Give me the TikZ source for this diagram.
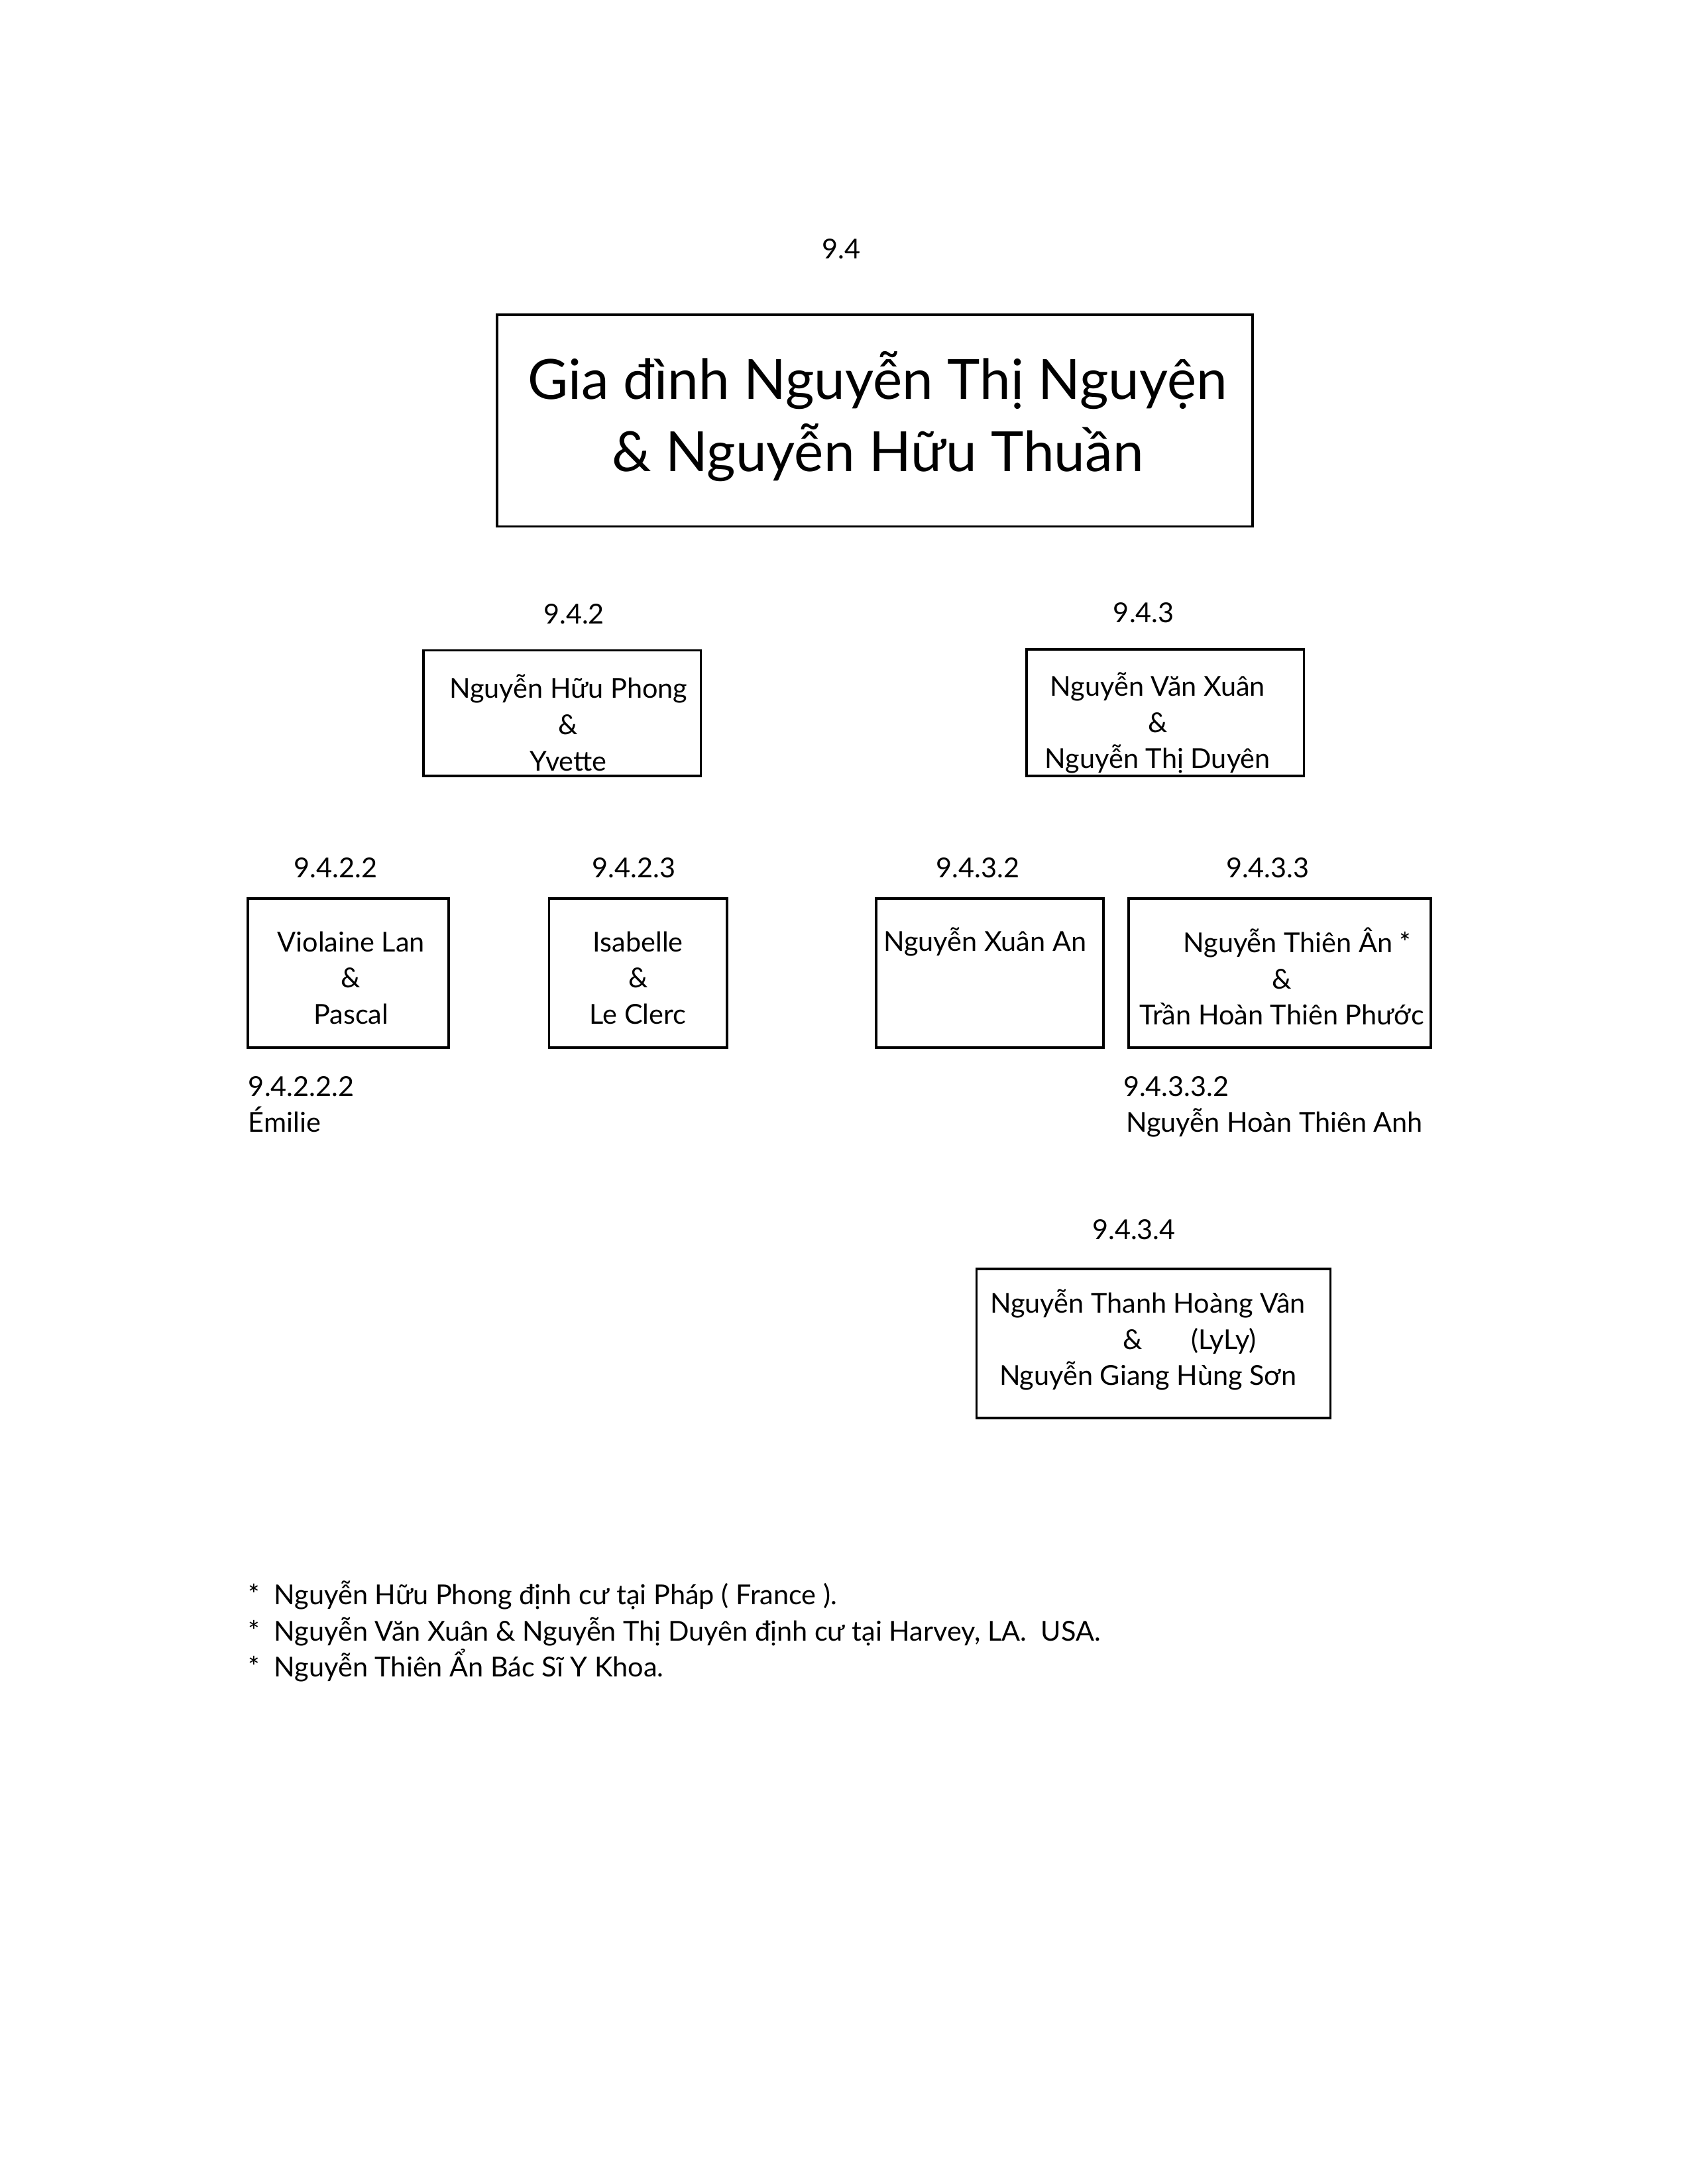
\documentclass[tikz,border=0pt]{standalone}
\usepackage{fontspec}
\setmainfont{Lato}
\newcommand{\famfont}{\fontsize{10}{13.2}\selectfont}
\newcommand{\titlefont}{\fontsize{20.2}{26.3}\selectfont}
\tikzset{
  % Family boxes (drawn empty, text set on top)
  fam/.style={draw=black,line width=0.9pt,fill=none,inner sep=0pt},
  famtxt/.style={align=center,font=\famfont,inner sep=0pt},
  titletxt/.style={align=center,font=\titlefont,inner sep=0pt},
  % Generation codes and loose names
  code/.style={font=\famfont,inner sep=0pt,anchor=base},
  codel/.style={font=\famfont,inner sep=0pt,anchor=base west}
}

\begin{document}
\begin{tikzpicture}[x=0.017844cm,y=-0.017844cm]
  \useasboundingbox (0,0) rectangle (1210,1568);

  % Heading family
  \node[code] (c94) at (604,186) {9.4};
  \node[fam,minimum width=9.67cm,minimum height=2.71cm] (b94) at (628,302) {};
  \node[titletxt] (t94) at (630,299) {Gia đình Nguyễn Thị Nguyện\\\& Nguyễn Hữu Thuần};

  % Second generation
  \node[code] (c942) at (412,448) {9.4.2};
  \node[code] (c943) at (821,447) {9.4.3};
  \node[fam,minimum width=3.55cm,minimum height=1.61cm] (b942) at (403.5,512) {};
  \node[famtxt] (t942) at (408,519) {Nguyễn Hữu Phong\\\&\\Yvette};
  \node[fam,minimum width=3.55cm,minimum height=1.62cm] (b943) at (836.5,511.5) {};
  \node[famtxt] (t943) at (831,519) {Nguyễn Văn Xuân\\\&\\Nguyễn Thị Duyên};

  % Third generation
  \node[code] (c9422) at (241,630) {9.4.2.2};
  \node[code] (c9423) at (455,630) {9.4.2.3};
  \node[code] (c9432) at (702,630) {9.4.3.2};
  \node[code] (c9433) at (910,630) {9.4.3.3};
  \node[fam,minimum width=2.57cm,minimum height=1.91cm] (b9422) at (250,698.5) {};
  \node[famtxt] (t9422) at (252,702) {Violaine Lan\\\&\\Pascal};
  \node[fam,minimum width=2.28cm,minimum height=1.91cm] (b9423) at (458,698.5) {};
  \node[famtxt] (t9423) at (458,702) {Isabelle\\\&\\Le Clerc};
  \node[fam,minimum width=2.91cm,minimum height=1.91cm] (b9432) at (710.5,698.5) {};
  \node[famtxt] (t9432) at (707,676) {Nguyễn Xuân An};
  \node[fam,minimum width=3.87cm,minimum height=1.91cm] (b9433) at (918.5,698.5) {};
  \node[famtxt] (t9433) at (920,701) {\hspace*{0.4cm}Nguyễn Thiên Ân *\\\&\\Trần Hoàn Thiên Phước};

  % Grandchildren
  \node[codel] (c94222) at (178,787) {9.4.2.2.2};
  \node[codel] (n94222) at (178,813) {Émilie};
  \node[codel] (c94332) at (806,787) {9.4.3.3.2};
  \node[codel] (n94332) at (808,813) {Nguyễn Hoàn Thiên Anh};

  % Fourth child of 9.4.3
  \node[code] (c9434) at (814,890) {9.4.3.4};
  \node[fam,minimum width=4.53cm,minimum height=1.91cm] (b9434) at (828,964.5) {};
  \node[famtxt] (t9434) at (824,962) {Nguyễn Thanh Hoàng Vân\\\hspace*{1.07cm}\&\hspace{0.62cm}(LyLy)\\Nguyễn Giang Hùng Sơn};

  % Notes
  \node[codel] (nt1) at (178,1152) {\makebox[0.33cm][l]{*}Nguyễn Hữu Phong định cư tại Pháp ( France ).};
  \node[codel] (nt2) at (178,1178) {\makebox[0.33cm][l]{*}Nguyễn Văn Xuân \& Nguyễn Thị Duyên định cư tại Harvey, LA.\ \ USA.};
  \node[codel] (nt3) at (178,1204) {\makebox[0.33cm][l]{*}Nguyễn Thiên Ẩn Bác Sĩ Y Khoa.};
\end{tikzpicture}
\end{document}
